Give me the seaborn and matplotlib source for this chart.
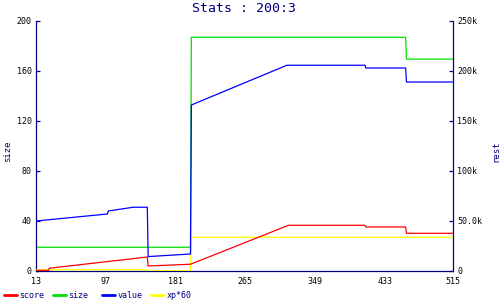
import matplotlib
matplotlib.use("Agg")
import matplotlib.pyplot as plt
from matplotlib.lines import Line2D
import seaborn as sns
import pandas as pd

# ---- data ----
size_x = [13, 199, 200, 458, 459, 515]
size_y = [19, 19, 187, 187, 169.5, 169.5]

score_x = [13, 28, 29, 147, 148, 199, 317, 409, 410, 458, 459, 515]
score_y = [700, 700, 2750, 14000, 5000, 6750, 45700, 45700, 44000, 44000, 37700, 37700]

value_x = [13, 99, 100, 130, 147, 148, 199, 200, 315, 409, 410, 458, 459, 515]
value_y = [50000, 57000, 60000, 63750, 63750, 14400, 17000, 166000, 205750,
           205750, 203000, 203000, 189000, 189000]

xp_x = [13, 147, 148, 199, 200, 515]
xp_y = [1250, 1250, 250, 250, 33750, 33750]

x_ticks = [13, 97, 181, 265, 349, 433, 515]
left_ticks = [0, 40, 80, 120, 160, 200]
right_ticks = [0, 50000, 100000, 150000, 200000, 250000]
right_labels = ["0", "50.0k", "100k", "150k", "200k", "250k"]

legend_names = ["score", "size", "value", "xp*60"]
colors = {"score": "#ff0000", "size": "#00e000", "value": "#0000ff", "xp*60": "#ffff00"}

navy = "#000080"
sns.set_style("white")
plt.rcParams["font.family"] = ["DejaVu Sans Mono", "DejaVu Sans"]

fig = plt.figure(figsize=(5, 3), dpi=100)
ax = fig.add_axes([0.072, 0.0967, 0.834, 0.8333])
ax2 = ax.twinx()

lw = 0.9
sns.lineplot(data=pd.DataFrame({"x": size_x, "y": size_y}), x="x", y="y", ax=ax,
             color=colors["size"], lw=lw, estimator=None, sort=False)
sns.lineplot(data=pd.DataFrame({"x": xp_x, "y": xp_y}), x="x", y="y", ax=ax2,
             color=colors["xp*60"], lw=lw, estimator=None, sort=False)
sns.lineplot(data=pd.DataFrame({"x": score_x, "y": score_y}), x="x", y="y", ax=ax2,
             color=colors["score"], lw=lw, estimator=None, sort=False)
sns.lineplot(data=pd.DataFrame({"x": value_x, "y": value_y}), x="x", y="y", ax=ax2,
             color=colors["value"], lw=lw, estimator=None, sort=False)

ax.set_xlim(13, 515)
ax.set_ylim(0, 200)
ax2.set_ylim(0, 250000)
ax.set_xticks(x_ticks)
ax.set_xticklabels([str(t) for t in x_ticks])
ax.set_yticks(left_ticks)
ax.set_yticklabels([str(t) for t in left_ticks])
ax2.set_yticks(right_ticks)
ax2.set_yticklabels(right_labels)

for a in (ax, ax2):
    for s in a.spines.values():
        s.set_color(navy)
        s.set_linewidth(0.9)
    a.spines["top"].set_visible(False)
    a.grid(False)
ax.spines["right"].set_visible(False)
ax2.spines["left"].set_visible(False)
ax2.spines["bottom"].set_visible(False)

ax.tick_params(axis="both", direction="in", length=3, width=0.9, color=navy,
               labelsize=6, labelcolor="black", pad=3)
ax.tick_params(axis="x", pad=4)
ax2.tick_params(axis="y", direction="in", length=3, width=0.9, color=navy,
                labelsize=6, labelcolor="black", pad=3)

ax.set_xlabel("")
ax.set_ylabel("size", fontsize=6.5, color=navy)
ax2.set_ylabel("rest", fontsize=6.5, color=navy, rotation=90)
ax.yaxis.set_label_coords(-0.058, 0.48)
ax2.yaxis.set_label_coords(1.093, 0.48)

fig.suptitle("Stats : 200:3", x=0.489, y=0.995, va="top", fontsize=9.5, color=navy)

# legend below: one entry every ~49 px
ly = 1 - 295 / 300
for i, name in enumerate(legend_names):
    x0 = (4 + 49 * i) / 500
    fig.add_artist(Line2D([x0, x0 + 13 / 500], [ly, ly], color=colors[name], lw=2,
                          transform=fig.transFigure))
    fig.text(x0 + 15.5 / 500, ly, name, fontsize=6, color=navy, va="center", ha="left")

fig.savefig("out.png", dpi=100)
